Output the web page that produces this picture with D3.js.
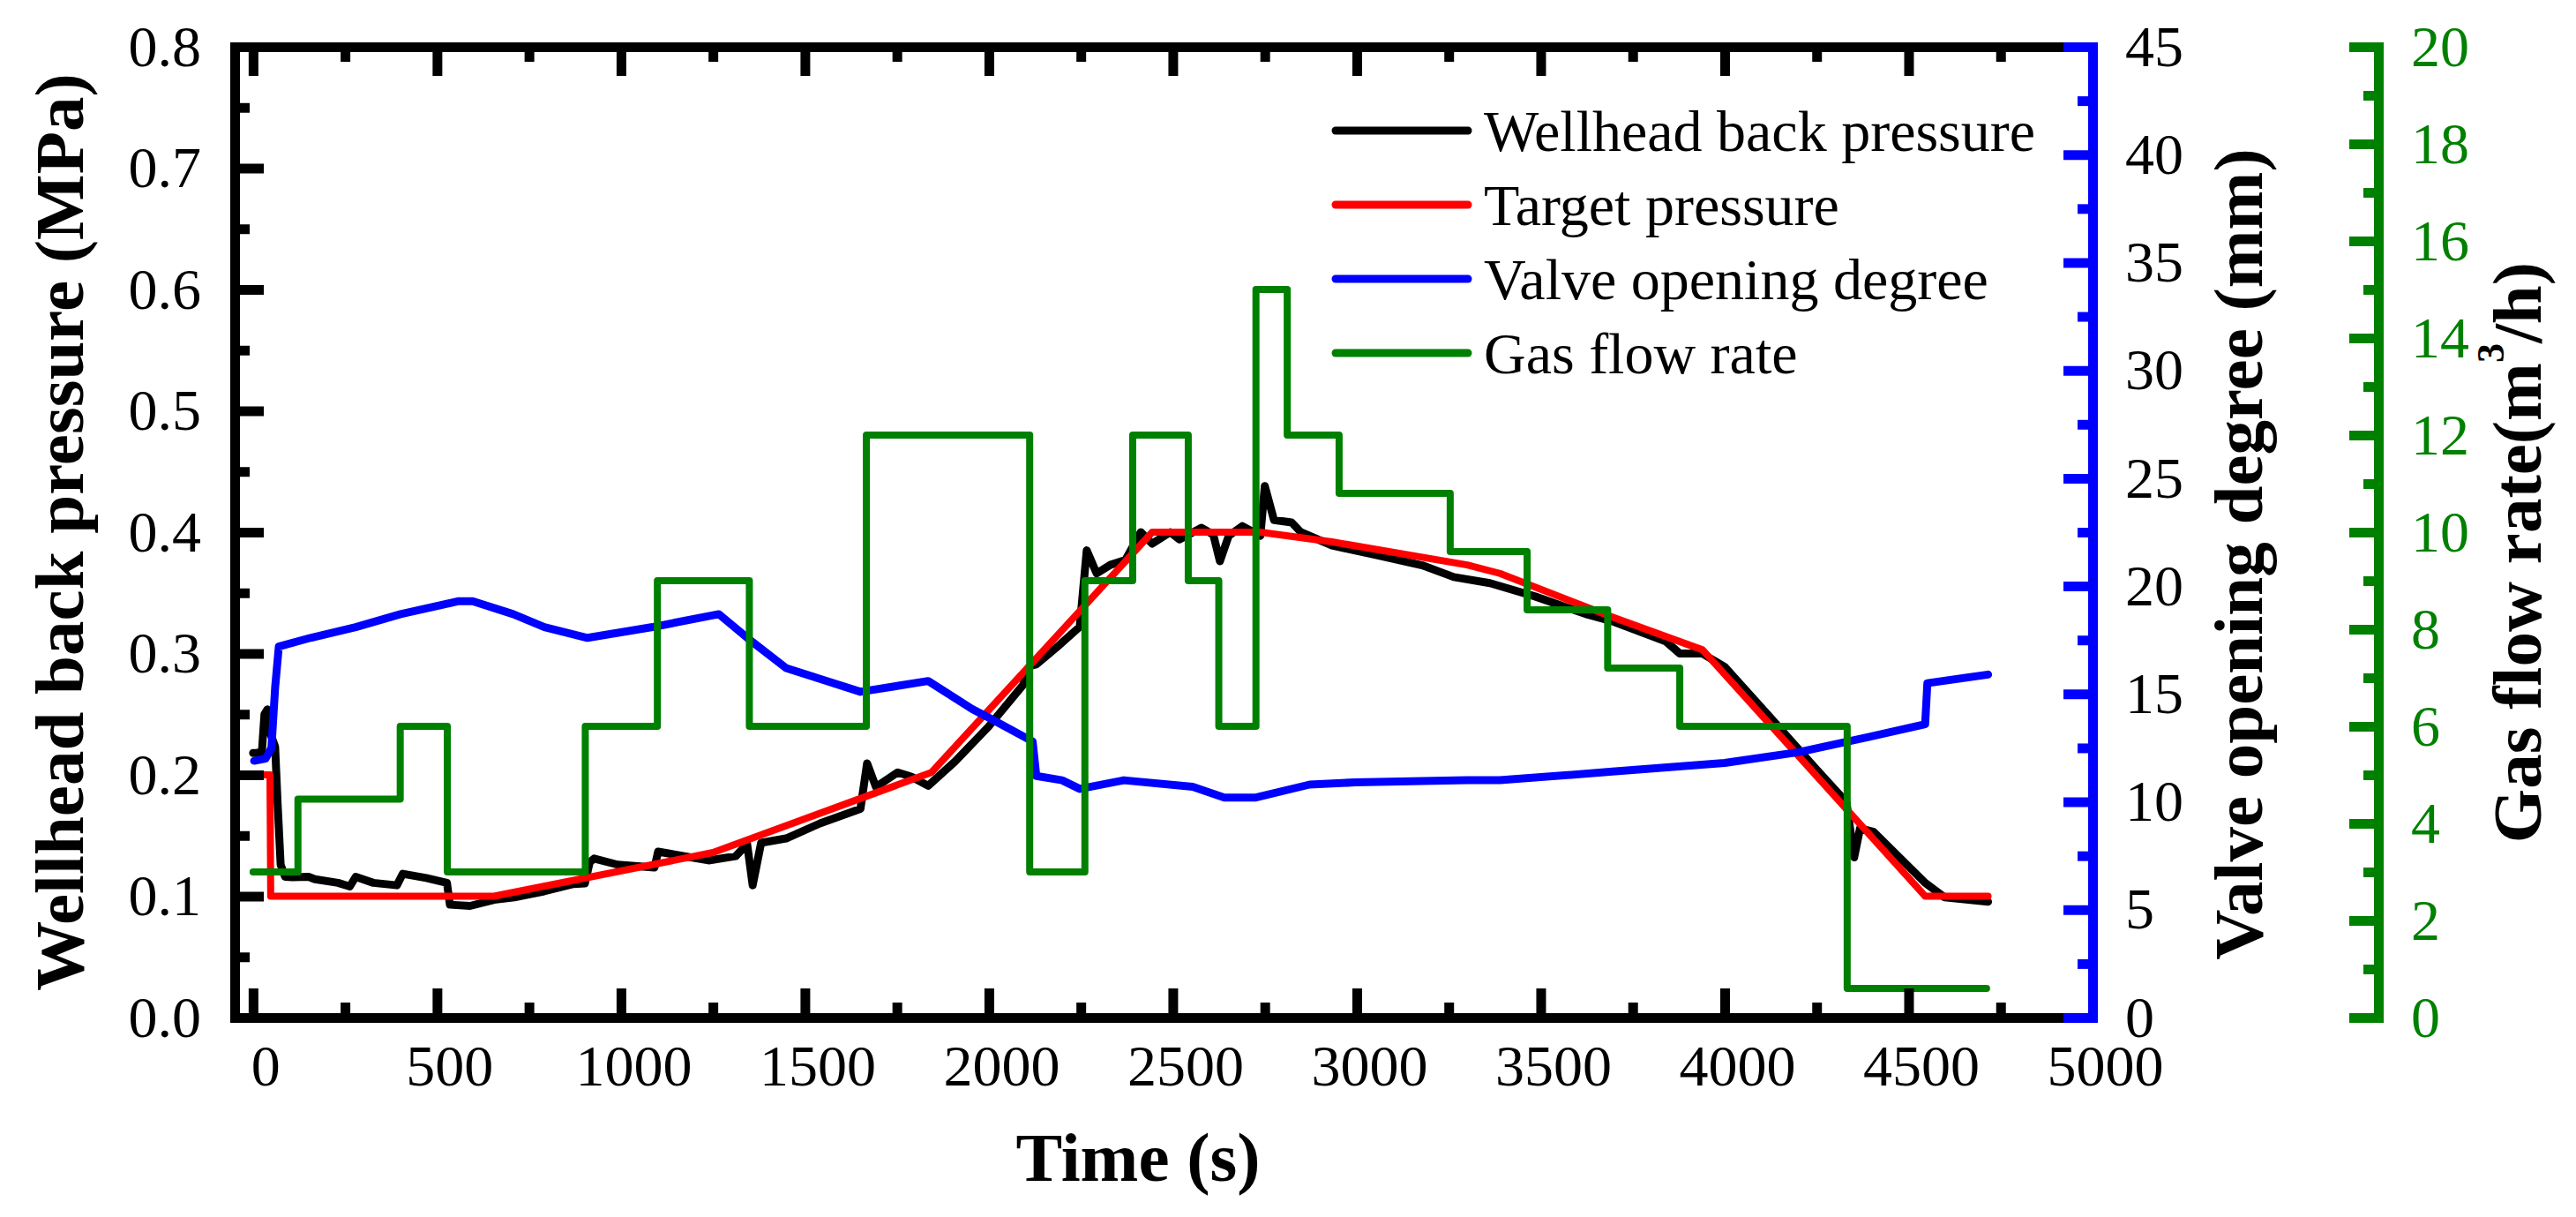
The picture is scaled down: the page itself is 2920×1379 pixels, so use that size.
<!DOCTYPE html>
<html>
<head>
<meta charset="utf-8">
<script src="https://cdn.jsdelivr.net/npm/d3@7"></script>
<style>
  body { margin: 0; background: #fff; }
  text { font-family: "Liberation Serif", "Times New Roman", serif; }
</style>
</head>
<body>
<div id="chart"></div>
<script>
// measured wellhead back pressure, [time (s), MPa]
var back_pressure = [
    [0, 0.218], [10, 0.218], [24, 0.219], [31, 0.25], [39, 0.254], [46, 0.235], [60, 0.223],
    [67, 0.175], [75, 0.126], [87, 0.116], [107, 0.1157], [151, 0.116], [168, 0.114],
    [231, 0.111], [263, 0.108], [279, 0.116], [327, 0.111], [391, 0.109], [407, 0.1185],
    [471, 0.115], [527, 0.111], [535, 0.093], [590, 0.092], [655, 0.097], [710, 0.099],
    [791, 0.104], [871, 0.110], [902, 0.1105], [915, 0.128], [927, 0.131], [991, 0.126],
    [1091, 0.1236], [1101, 0.1367], [1238, 0.1295], [1312, 0.133], [1343, 0.143],
    [1358, 0.109], [1381, 0.144], [1449, 0.1476], [1541, 0.16], [1651, 0.172],
    [1669, 0.2095], [1693, 0.19], [1752, 0.202], [1789, 0.1985], [1835, 0.191],
    [1908, 0.211], [2000, 0.24], [2092, 0.2737], [2113, 0.29], [2129, 0.291],
    [2184, 0.305], [2247, 0.322], [2266, 0.385], [2293, 0.366], [2330, 0.373],
    [2371, 0.377], [2413, 0.4], [2444, 0.3905], [2493, 0.4], [2518, 0.394],
    [2578, 0.4036], [2610, 0.398], [2628, 0.376], [2652, 0.397], [2689, 0.405],
    [2738, 0.397], [2750, 0.438], [2775, 0.41], [2823, 0.408], [2848, 0.4],
    [2933, 0.389], [3055, 0.381], [3178, 0.3727], [3264, 0.363], [3362, 0.358],
    [3485, 0.347], [3628, 0.332], [3700, 0.326], [3840, 0.31], [3878, 0.30], [3939, 0.30],
    [4000, 0.289], [4122, 0.248], [4245, 0.206], [4331, 0.1775], [4352, 0.132],
    [4368, 0.156], [4405, 0.153], [4545, 0.111], [4598, 0.099], [4716, 0.0954]
];

// target pressure, [time (s), MPa]
var target_pressure = [
    [0, 0.2], [46, 0.2], [48, 0.1], [655, 0.1], [1250, 0.136], [1844, 0.202],
    [2444, 0.4], [2738, 0.4], [2933, 0.392], [3300, 0.373], [3389, 0.366],
    [3695, 0.33], [3940, 0.303], [4545, 0.1], [4716, 0.1]
];

// valve opening degree, [time (s), mm]
var valve_opening = [
    [3, 11.9], [34, 12.0], [50, 12.5], [60, 15.3], [70, 17.2], [156, 17.6], [279, 18.1],
    [401, 18.7], [559, 19.3], [597, 19.3], [707, 18.7], [792, 18.1], [909, 17.6],
    [1086, 18.1], [1266, 18.7], [1358, 17.4], [1449, 16.2], [1541, 15.7], [1651, 15.1],
    [1835, 15.6], [1955, 14.3], [2000, 13.9], [2119, 12.8], [2129, 11.2], [2199, 11.0],
    [2247, 10.6], [2367, 11.0], [2554, 10.7], [2640, 10.2], [2726, 10.2], [2872, 10.8],
    [2995, 10.9], [3300, 11.0], [3389, 11.0], [3695, 11.4], [4000, 11.8], [4200, 12.3],
    [4391, 13.0], [4545, 13.6], [4551, 15.5], [4716, 15.9]
];

// gas flow rate steps, [start time (s), m3/h]
var gas_flow = [
    [0, 3], [122, 4.5], [400, 6], [528, 3], [903, 6], [1099, 9], [1349, 6], [1667, 12],
    [2111, 3], [2261, 9], [2391, 12], [2542, 9], [2625, 6], [2726, 15], [2811, 12],
    [2952, 10.8], [3254, 9.6], [3463, 8.4], [3682, 7.2], [3878, 6], [4333, 0.6], [4712, 0.6]
];

var time_ticks = [0, 500, 1000, 1500, 2000, 2500, 3000, 3500, 4000, 4500, 5000];
var time_minor = [250, 750, 1250, 1750, 2250, 2750, 3250, 3750, 4250, 4750];
var pressure_ticks = [0, 0.1, 0.2, 0.3, 0.4, 0.5, 0.6, 0.7, 0.8];
var pressure_minor = [0.05, 0.15, 0.25, 0.35, 0.45, 0.55, 0.65, 0.75];
var valve_ticks = [0, 5, 10, 15, 20, 25, 30, 35, 40, 45];
var valve_minor = [2.5, 7.5, 12.5, 17.5, 22.5, 27.5, 32.5, 37.5, 42.5];
var gas_ticks = [0, 2, 4, 6, 8, 10, 12, 14, 16, 18, 20];
var gas_minor = [1, 3, 5, 7, 9, 11, 13, 15, 17, 19];

var legend_names = ["Wellhead back pressure", "Target pressure", "Valve opening degree", "Gas flow rate"];
var legend_colours = ["#000000", "#ff0000", "#0000ff", "#008000"];

// frame edges (px)
var plot_left = 266, plot_right = 2372, plot_top = 53, plot_bottom = 1153, gas_axis_x = 2696;

var svg = d3.select("#chart")
    .append("svg")
    .attr("width", 2920)
    .attr("height", 1379);

var x = d3.scaleLinear().domain([-50, 5000]).range([plot_left, plot_right]);
var y = d3.scaleLinear().domain([0, 0.8]).range([plot_bottom, plot_top]);
var y_valve = d3.scaleLinear().domain([0, 45]).range([plot_bottom, plot_top]);
var y_gas = d3.scaleLinear().domain([0, 20]).range([plot_bottom, plot_top]);

// data lines
var line_p = d3.line().x(function (d) { return x(d[0]); }).y(function (d) { return y(d[1]); });
var line_v = d3.line().x(function (d) { return x(d[0]); }).y(function (d) { return y_valve(d[1]); });
var line_g = d3.line().x(function (d) { return x(d[0]); }).y(function (d) { return y_gas(d[1]); })
    .curve(d3.curveStepAfter);

var series = [
    {d: line_p(back_pressure), colour: legend_colours[0], w: 9},
    {d: line_p(target_pressure), colour: legend_colours[1], w: 8},
    {d: line_v(valve_opening), colour: legend_colours[2], w: 9},
    {d: line_g(gas_flow), colour: legend_colours[3], w: 8}
];

svg.append("g").selectAll("path")
    .data(series)
    .enter()
    .append("path")
    .attr("d", function (d) { return d.d; })
    .attr("fill", "none")
    .attr("stroke", function (d) { return d.colour; })
    .attr("stroke-width", function (d) { return d.w; })
    .attr("stroke-linejoin", "round")
    .attr("stroke-linecap", "round");

// axis helpers
function style_axis(g, colour, label_colour) {
    g.attr("font-family", null).attr("font-size", null);
    g.select(".domain")
        .attr("stroke", colour)
        .attr("stroke-width", 11)
        .attr("stroke-linecap", "square");
    g.selectAll(".tick line").attr("stroke", colour).attr("stroke-width", 11);
    g.selectAll(".tick text")
        .attr("fill", label_colour)
        .attr("font-size", 66);
}

function minor_axis(axis, colour) {
    return function (g) {
        g.call(axis.tickSizeInner(-17).tickSizeOuter(0).tickFormat(""));
        g.select(".domain").remove();
        g.selectAll(".tick line").attr("stroke", colour).attr("stroke-width", 11);
    };
}

// bottom axis
svg.append("g")
    .attr("transform", "translate(0," + plot_bottom + ")")
    .call(minor_axis(d3.axisBottom(x).tickValues(time_minor), "#000"));
svg.append("g")
    .attr("transform", "translate(0," + plot_bottom + ")")
    .call(d3.axisBottom(x).tickValues(time_ticks).tickFormat(d3.format("d"))
        .tickSizeInner(-33).tickSizeOuter(0).tickPadding(30))
    .call(function (g) { style_axis(g, "#000", "#000"); })
    .selectAll(".tick text").attr("dx", 14);

// top axis
svg.append("g")
    .attr("transform", "translate(0," + plot_top + ")")
    .call(minor_axis(d3.axisTop(x).tickValues(time_minor), "#000"));
svg.append("g")
    .attr("transform", "translate(0," + plot_top + ")")
    .call(d3.axisTop(x).tickValues(time_ticks).tickSizeInner(-33).tickSizeOuter(0).tickFormat(""))
    .call(function (g) { style_axis(g, "#000", "#000"); });

// left axis
svg.append("g")
    .attr("transform", "translate(" + plot_left + ",0)")
    .call(minor_axis(d3.axisLeft(y).tickValues(pressure_minor), "#000"));
svg.append("g")
    .attr("transform", "translate(" + plot_left + ",0)")
    .call(d3.axisLeft(y).tickValues(pressure_ticks).tickFormat(d3.format(".1f"))
        .tickSizeInner(-33).tickSizeOuter(0).tickPadding(38))
    .call(function (g) { style_axis(g, "#000", "#000"); });

// valve axis (blue)
svg.append("g")
    .attr("transform", "translate(" + plot_right + ",0)")
    .call(minor_axis(d3.axisRight(y_valve).tickValues(valve_minor), "#0000ff"));
svg.append("g")
    .attr("transform", "translate(" + plot_right + ",0)")
    .call(d3.axisRight(y_valve).tickValues(valve_ticks).tickFormat(d3.format("d"))
        .tickSizeInner(-33).tickSizeOuter(0).tickPadding(37))
    .call(function (g) { style_axis(g, "#0000ff", "#000"); });

// gas axis (green)
svg.append("g")
    .attr("transform", "translate(" + gas_axis_x + ",0)")
    .call(minor_axis(d3.axisRight(y_gas).tickValues(gas_minor), "#008000"));
svg.append("g")
    .attr("transform", "translate(" + gas_axis_x + ",0)")
    .call(d3.axisRight(y_gas).tickValues(gas_ticks).tickFormat(d3.format("d"))
        .tickSizeInner(-33).tickSizeOuter(0).tickPadding(37))
    .call(function (g) { style_axis(g, "#008000", "#008000"); });

// axis titles
var titles = [
    {text: "Wellhead back pressure (MPa)", x: 94, y: 603, rot: -90},
    {text: "Time (s)", x: 1290, y: 1338, rot: 0},
    {text: "Valve opening degree (mm)", x: 2564, y: 628, rot: -90}
];
svg.selectAll("axis_titles")
    .data(titles)
    .enter()
    .append("text")
    .attr("transform", function (d) { return "translate(" + d.x + "," + d.y + ") rotate(" + d.rot + ")"; })
    .attr("text-anchor", "middle")
    .attr("font-weight", "bold")
    .attr("font-size", 79)
    .text(function (d) { return d.text; });

var gas_title = svg.append("text")
    .attr("transform", "translate(2880,626) rotate(-90)")
    .attr("text-anchor", "middle")
    .attr("font-weight", "bold")
    .attr("font-size", 79);
gas_title.append("tspan").text("Gas flow rate(m");
gas_title.append("tspan").attr("font-size", 44).attr("dy", -42).text("3");
gas_title.append("tspan").attr("dy", 42).text("/h)");

// legend
var legend = svg.append("g").selectAll("g")
    .data(legend_names)
    .enter()
    .append("g")
    .attr("transform", function (d, i) { return "translate(0," + (148 + i * 84) + ")"; });

legend.append("line")
    .attr("x1", 1514).attr("x2", 1664)
    .attr("stroke", function (d, i) { return legend_colours[i]; })
    .attr("stroke-width", 9)
    .attr("stroke-linecap", "round");

legend.append("text")
    .attr("x", 1682)
    .attr("y", 23)
    .attr("font-size", 66)
    .text(function (d) { return d; });
</script>
</body>
</html>
